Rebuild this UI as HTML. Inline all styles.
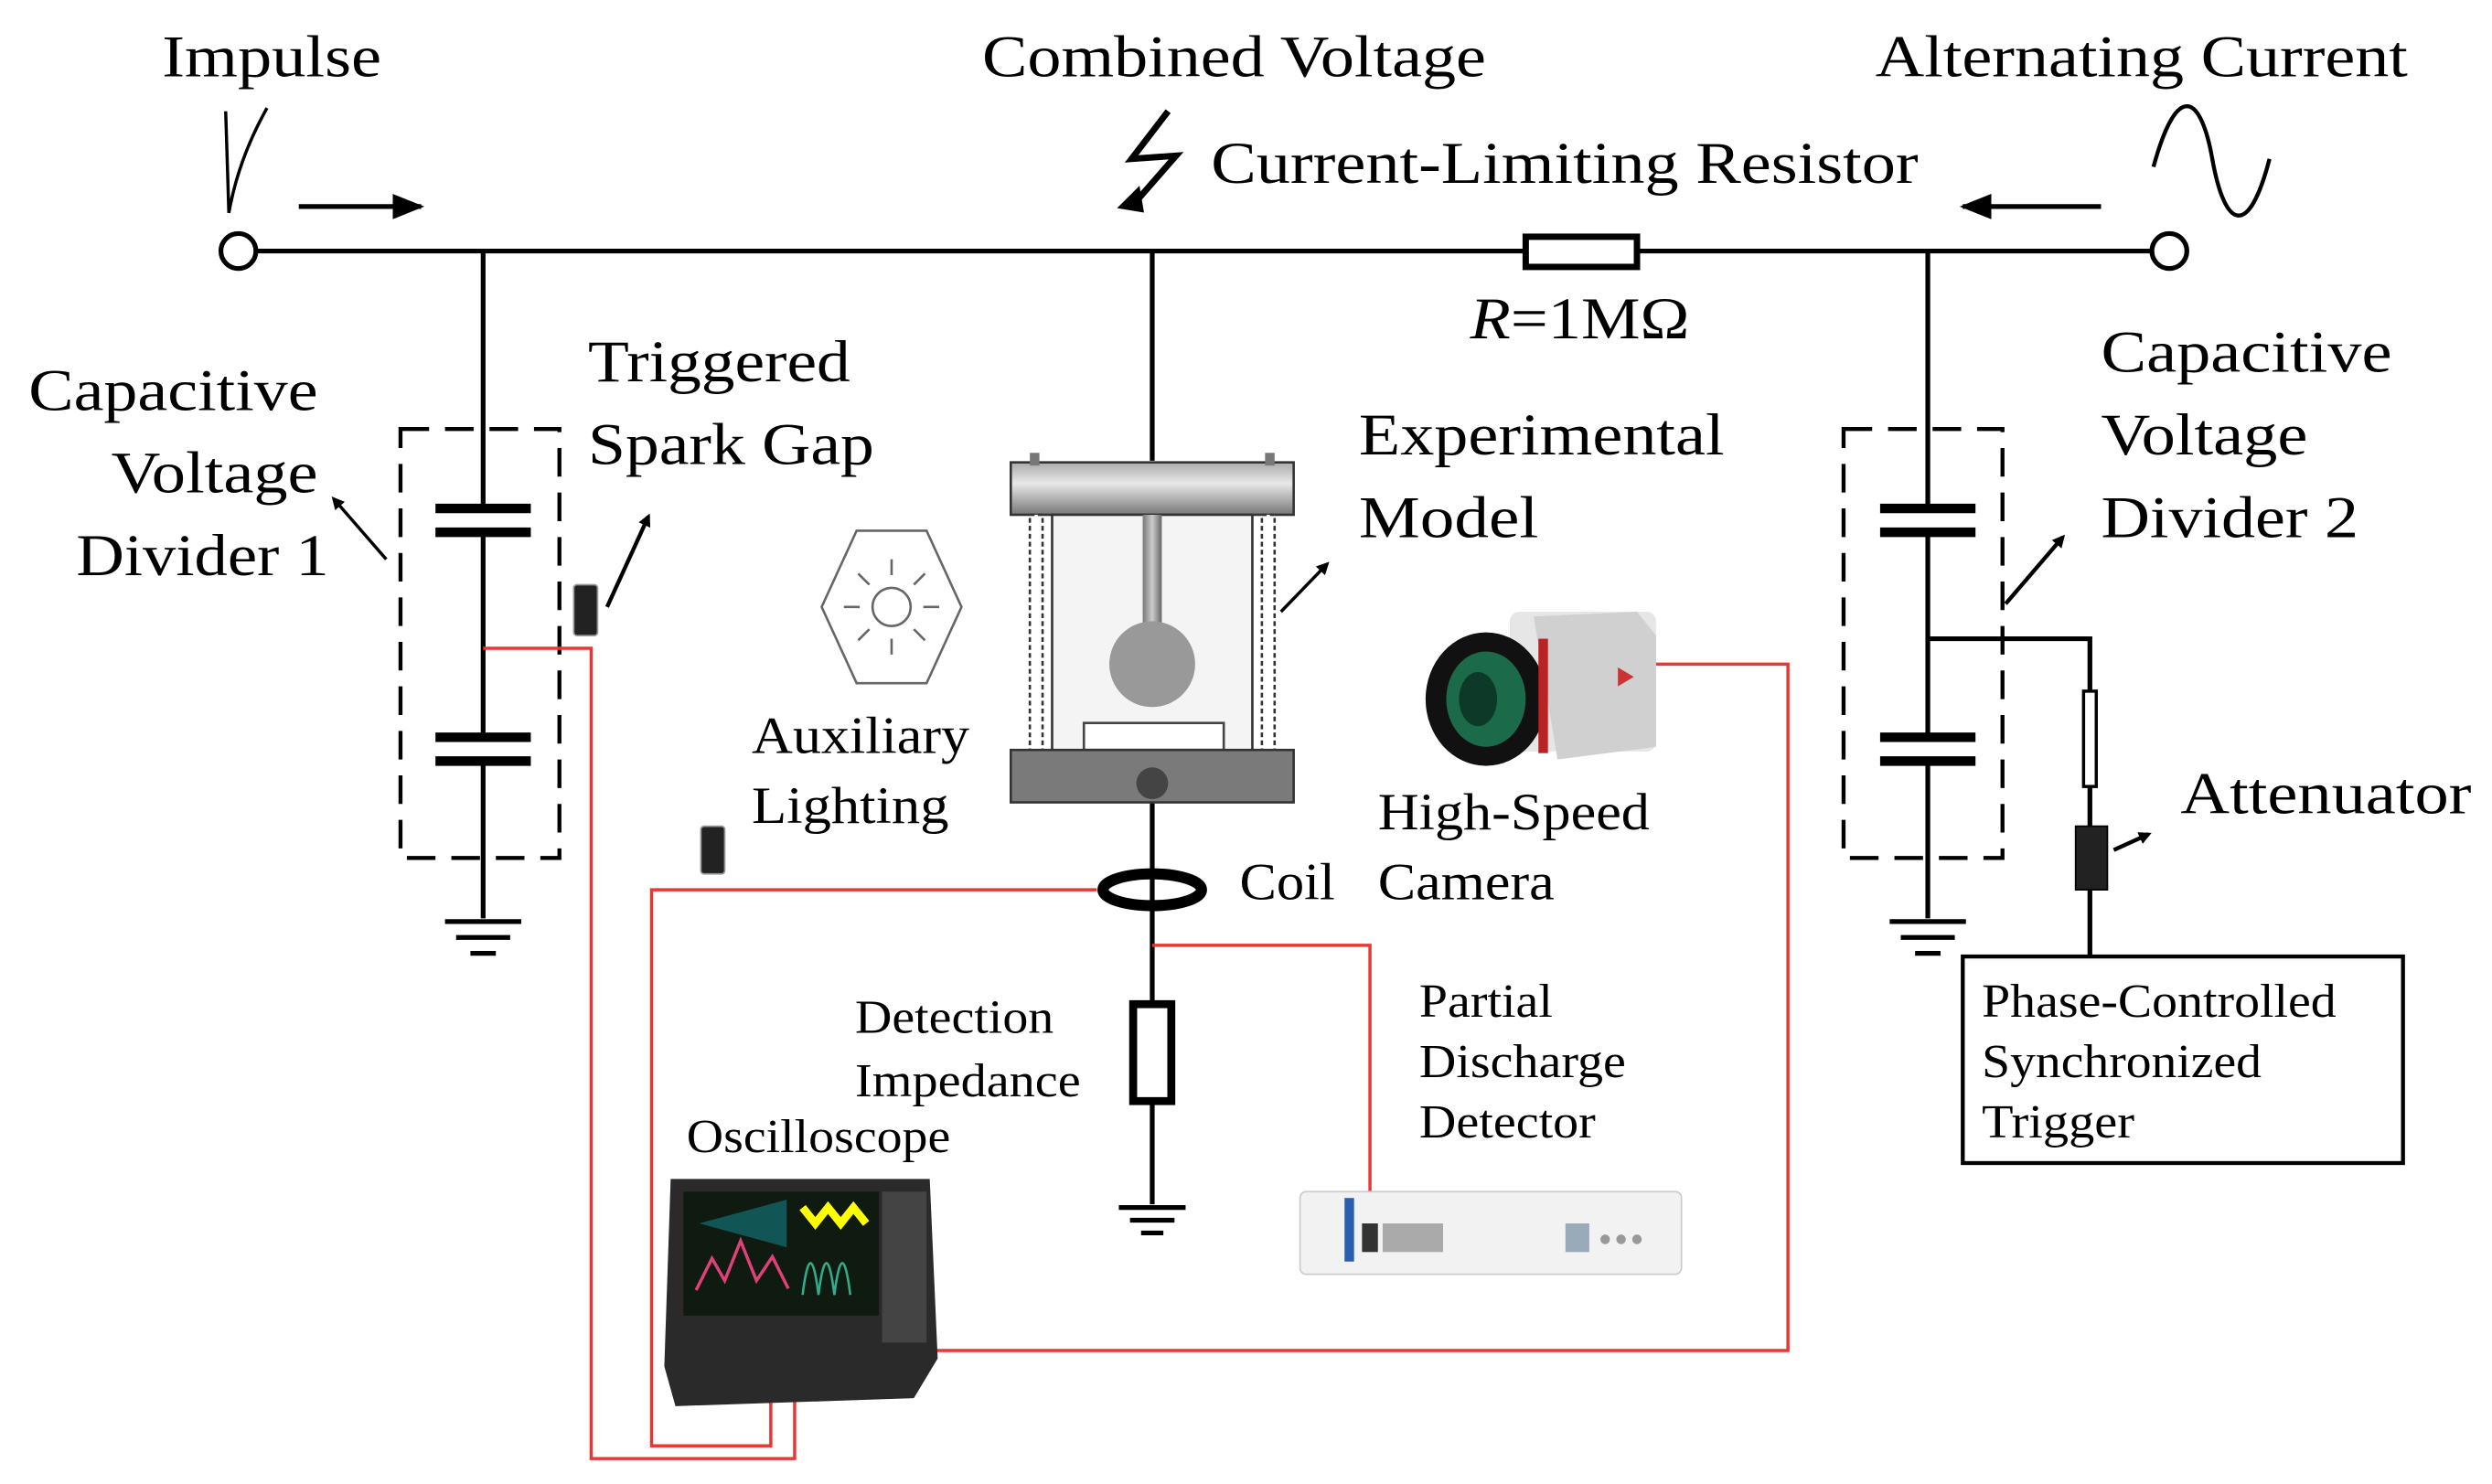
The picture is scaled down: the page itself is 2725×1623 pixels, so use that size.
<!DOCTYPE html>
<html><head><meta charset="utf-8"><style>
html,body{margin:0;padding:0;background:#fff;}
svg{display:block;}
text{font-family:"Liberation Serif",serif;fill:#000;}
</style></head><body>
<svg width="2725" height="1623" viewBox="0 0 1568 934" preserveAspectRatio="none" xmlns="http://www.w3.org/2000/svg">
<defs>
<linearGradient id="met" x1="0" x2="0" y1="0" y2="1"><stop offset="0" stop-color="#aaa"/><stop offset="0.4" stop-color="#e8e8e8"/><stop offset="1" stop-color="#777"/></linearGradient>
<linearGradient id="met2" x1="0" x2="1"><stop offset="0" stop-color="#777"/><stop offset="0.5" stop-color="#ccc"/><stop offset="1" stop-color="#666"/></linearGradient>
<marker id="ah" markerWidth="8" markerHeight="8" refX="6" refY="4" orient="auto" markerUnits="userSpaceOnUse" viewBox="0 0 8 8"><path d="M0,0 L8,4 L0,8 z" fill="#000"/></marker>
<marker id="ahb" markerWidth="20" markerHeight="20" refX="18" refY="10" orient="auto" markerUnits="userSpaceOnUse"><path d="M0,2 L20,10 L0,18 z" fill="#000"/></marker>
</defs>
<g stroke="#000" stroke-width="3" fill="none">
<line x1="161" y1="158" x2="960" y2="158"/><line x1="1030" y1="158" x2="1354" y2="158"/>
<circle cx="150" cy="158" r="11" fill="#fff"/><circle cx="1365" cy="158" r="11" fill="#fff"/>
<rect x="960" y="149" width="70" height="19" stroke-width="4" fill="#fff"/>
<line x1="188" y1="130" x2="265" y2="130" marker-end="url(#ahb)"/>
<line x1="1322" y1="130" x2="1235" y2="130" marker-end="url(#ahb)"/>
<path d="M142,70 L144,134 Q150,100 168,68" stroke-width="2"/>
<path d="M1355,105 C1370,50 1385,60 1392,100 C1400,145 1415,150 1428,100" stroke-width="2.5"/>
<path d="M735,70 L712,100 L740,98 L712,130" stroke-width="4"/>
<path d="M706,130 L716,120 L718,132 z" fill="#000"/>
<line x1="304" y1="158" x2="304" y2="320"/><line x1="304" y1="336" x2="304" y2="463"/><line x1="304" y1="480" x2="304" y2="578"/>
<line x1="274" y1="320" x2="334" y2="320" stroke-width="6"/><line x1="274" y1="335" x2="334" y2="335" stroke-width="6"/>
<line x1="274" y1="464" x2="334" y2="464" stroke-width="6"/><line x1="274" y1="479" x2="334" y2="479" stroke-width="6"/>
<rect x="252" y="270" width="100" height="270" stroke-dasharray="18,10" stroke-width="2.5"/>
<line x1="280" y1="580" x2="328" y2="580"/><line x1="287" y1="590" x2="321" y2="590"/><line x1="296" y1="600" x2="312" y2="600"/>
<line x1="243" y1="352" x2="210" y2="314" stroke-width="2" marker-end="url(#ah)"/>
<line x1="382" y1="382" x2="408" y2="325" stroke-width="2.5" marker-end="url(#ah)"/>
<line x1="1213" y1="158" x2="1213" y2="320"/><line x1="1213" y1="336" x2="1213" y2="463"/><line x1="1213" y1="480" x2="1213" y2="578"/>
<line x1="1183" y1="320" x2="1243" y2="320" stroke-width="6"/><line x1="1183" y1="335" x2="1243" y2="335" stroke-width="6"/>
<line x1="1183" y1="464" x2="1243" y2="464" stroke-width="6"/><line x1="1183" y1="479" x2="1243" y2="479" stroke-width="6"/>
<rect x="1160" y="270" width="100" height="270" stroke-dasharray="18,10" stroke-width="2.5"/>
<line x1="1189" y1="580" x2="1237" y2="580"/><line x1="1196" y1="590" x2="1230" y2="590"/><line x1="1205" y1="600" x2="1221" y2="600"/>
<line x1="1262" y1="380" x2="1298" y2="338" stroke-width="2.5" marker-end="url(#ah)"/>
<polyline points="1213,402 1315,402 1315,435"/>
<rect x="1311" y="435" width="8" height="60" stroke-width="2"/>
<line x1="1315" y1="495" x2="1315" y2="601"/>
<rect x="1306" y="520" width="20" height="40" fill="#222" stroke-width="1"/>
<line x1="1330" y1="535" x2="1352" y2="525" stroke-width="2.5" marker-end="url(#ah)"/>
<rect x="1235" y="602" width="277" height="130" stroke-width="2.5" fill="#fff"/>
<line x1="725" y1="158" x2="725" y2="290"/>
<line x1="725" y1="505" x2="725" y2="632"/>
<rect x="713" y="632" width="24" height="61" stroke-width="5" fill="#fff"/>
<line x1="725" y1="693" x2="725" y2="758"/>
<line x1="704" y1="760" x2="746" y2="760"/><line x1="711" y1="768" x2="739" y2="768"/><line x1="718" y1="776" x2="732" y2="776"/>
<ellipse cx="725" cy="560" rx="31" ry="10" stroke-width="7"/>
<line x1="806" y1="385" x2="835" y2="355" stroke-width="2" marker-end="url(#ah)"/>
</g>
<rect x="636" y="291" width="178" height="33" fill="url(#met)" stroke="#333" stroke-width="1.5"/>
<rect x="648" y="285" width="6" height="8" fill="#777"/><rect x="796" y="285" width="6" height="8" fill="#777"/>
<rect x="662" y="324" width="126" height="152" fill="#f4f4f4" stroke="#333" stroke-width="1.5"/>
<rect x="648" y="324" width="8" height="152" fill="#fff" stroke="#333" stroke-width="1.5" stroke-dasharray="3,2"/>
<rect x="794" y="324" width="8" height="152" fill="#fff" stroke="#333" stroke-width="1.5" stroke-dasharray="3,2"/>
<rect x="719" y="324" width="12" height="80" fill="url(#met2)"/>
<circle cx="725" cy="418" r="27" fill="#999"/>
<path d="M682,455 L770,455 L770,472 L682,472 z" fill="#fff" stroke="#444" stroke-width="1.5"/>
<rect x="636" y="472" width="178" height="33" fill="#7a7a7a" stroke="#333" stroke-width="1.5"/>
<circle cx="725" cy="493" r="10" fill="#444"/>
<g stroke="#666" stroke-width="1.5" fill="none">
<polygon points="539,334 583,334 605,382 583,430 539,430 517,382"/>
<circle cx="561" cy="382" r="12"/>
<path d="M561,352 v10 M561,402 v10 M531,382 h10 M581,382 h10 M540,361 l7,7 M582,361 l-7,7 M540,403 l7,-7 M582,403 l-7,-7"/>
</g>
<g stroke="#e53935" stroke-width="2" fill="none">
<polyline points="304,408 372,408 372,918 500,918 500,860"/>
<polyline points="690,560 410,560 410,910 485,910 485,860"/>
<polyline points="725,595 862,595 862,752"/>
<polyline points="1040,418 1125,418 1125,850 555,850"/>
</g>
<rect x="361" y="368" width="15" height="32" rx="2" fill="#222" stroke="#999"/>
<rect x="441" y="520" width="15" height="30" rx="2" fill="#222" stroke="#999"/>
<rect x="950" y="385" width="92" height="88" rx="6" fill="#e6e6e6"/>
<path d="M965,388 L1030,385 L1042,400 L1042,470 L980,478 z" fill="#d0d0d0"/>
<path d="M1018,420 l10,6 l-10,6z" fill="#c33"/>
<ellipse cx="935" cy="440" rx="38" ry="42" fill="#111"/>
<ellipse cx="935" cy="440" rx="25" ry="30" fill="#1b6b4a"/>
<ellipse cx="930" cy="440" rx="12" ry="17" fill="#0d3a28"/>
<rect x="968" y="402" width="6" height="72" fill="#b22"/>
<path d="M422,742 L585,742 L590,855 L575,880 L425,885 L418,860 z" fill="#2a2a2a"/>
<rect x="430" y="750" width="123" height="78" fill="#0f1a10"/>
<path d="M505,760 l8,10 l8,-10 l8,10 l8,-10 l8,10" stroke="#ff0" stroke-width="5" fill="none"/>
<path d="M438,812 l10,-20 l8,14 l10,-25 l10,25 l10,-15 l10,20" stroke="#e0407a" stroke-width="2" fill="none"/>
<path d="M505,815 q5,-40 10,0 q5,-40 10,0 q5,-40 10,0" stroke="#3a8" stroke-width="1.5" fill="none"/>
<path d="M440,770 L495,755 L495,785z" fill="#155"/>
<rect x="555" y="750" width="28" height="95" fill="#444"/>
<rect x="818" y="750" width="240" height="52" rx="4" fill="#f2f2f2" stroke="#ccc"/>
<rect x="846" y="754" width="6" height="40" fill="#2a5fb0"/>
<rect x="857" y="770" width="10" height="18" fill="#333"/><rect x="870" y="770" width="38" height="18" fill="#aaa"/>
<rect x="985" y="770" width="15" height="18" fill="#9ab"/>
<circle cx="1010" cy="780" r="3" fill="#999"/><circle cx="1020" cy="780" r="3" fill="#999"/><circle cx="1030" cy="780" r="3" fill="#999"/>
<g font-size="37" lengthAdjust="spacingAndGlyphs">
<text x="102" y="48" textLength="138" lengthAdjust="spacingAndGlyphs">Impulse</text>
<text x="618" y="48" textLength="317" lengthAdjust="spacingAndGlyphs">Combined Voltage</text>
<text x="1180" y="48" textLength="335" lengthAdjust="spacingAndGlyphs">Alternating Current</text>
<text x="762" y="115" textLength="445" lengthAdjust="spacingAndGlyphs">Current-Limiting Resistor</text>
<text x="925" y="213" textLength="138" lengthAdjust="spacingAndGlyphs"><tspan font-style="italic">R</tspan>=1MΩ</text>
<text x="18" y="258" textLength="182" lengthAdjust="spacingAndGlyphs">Capacitive</text>
<text x="70" y="310" textLength="130" lengthAdjust="spacingAndGlyphs">Voltage</text>
<text x="48" y="362" textLength="159" lengthAdjust="spacingAndGlyphs">Divider 1</text>
<text x="370" y="240" textLength="165" lengthAdjust="spacingAndGlyphs">Triggered</text>
<text x="370" y="292" textLength="180" lengthAdjust="spacingAndGlyphs">Spark Gap</text>
<text x="855" y="286" textLength="230" lengthAdjust="spacingAndGlyphs">Experimental</text>
<text x="855" y="338" textLength="113" lengthAdjust="spacingAndGlyphs">Model</text>
<text x="1322" y="234" textLength="183" lengthAdjust="spacingAndGlyphs">Capacitive</text>
<text x="1322" y="286" textLength="130" lengthAdjust="spacingAndGlyphs">Voltage</text>
<text x="1322" y="338" textLength="162" lengthAdjust="spacingAndGlyphs">Divider 2</text>
<text x="1372" y="512" textLength="183" lengthAdjust="spacingAndGlyphs">Attenuator</text>
</g>
<g font-size="33">
<text x="473" y="474" textLength="137" lengthAdjust="spacingAndGlyphs">Auxiliary</text>
<text x="473" y="518" textLength="124" lengthAdjust="spacingAndGlyphs">Lighting</text>
<text x="867" y="522" textLength="171" lengthAdjust="spacingAndGlyphs">High-Speed</text>
<text x="867" y="566" textLength="111" lengthAdjust="spacingAndGlyphs">Camera</text>
<text x="780" y="566" textLength="60" lengthAdjust="spacingAndGlyphs">Coil</text>
</g>
<g font-size="30">
<text x="538" y="650" textLength="125" lengthAdjust="spacingAndGlyphs">Detection</text>
<text x="538" y="690" textLength="142" lengthAdjust="spacingAndGlyphs">Impedance</text>
<text x="432" y="725" textLength="166" lengthAdjust="spacingAndGlyphs">Oscilloscope</text>
<text x="893" y="640" textLength="84" lengthAdjust="spacingAndGlyphs">Partial</text>
<text x="893" y="678" textLength="130" lengthAdjust="spacingAndGlyphs">Discharge</text>
<text x="893" y="716" textLength="111" lengthAdjust="spacingAndGlyphs">Detector</text>
<text x="1247" y="640" textLength="223" lengthAdjust="spacingAndGlyphs">Phase-Controlled</text>
<text x="1247" y="678" textLength="176" lengthAdjust="spacingAndGlyphs">Synchronized</text>
<text x="1247" y="716" textLength="96" lengthAdjust="spacingAndGlyphs">Trigger</text>
</g>
</svg>
</body></html>
